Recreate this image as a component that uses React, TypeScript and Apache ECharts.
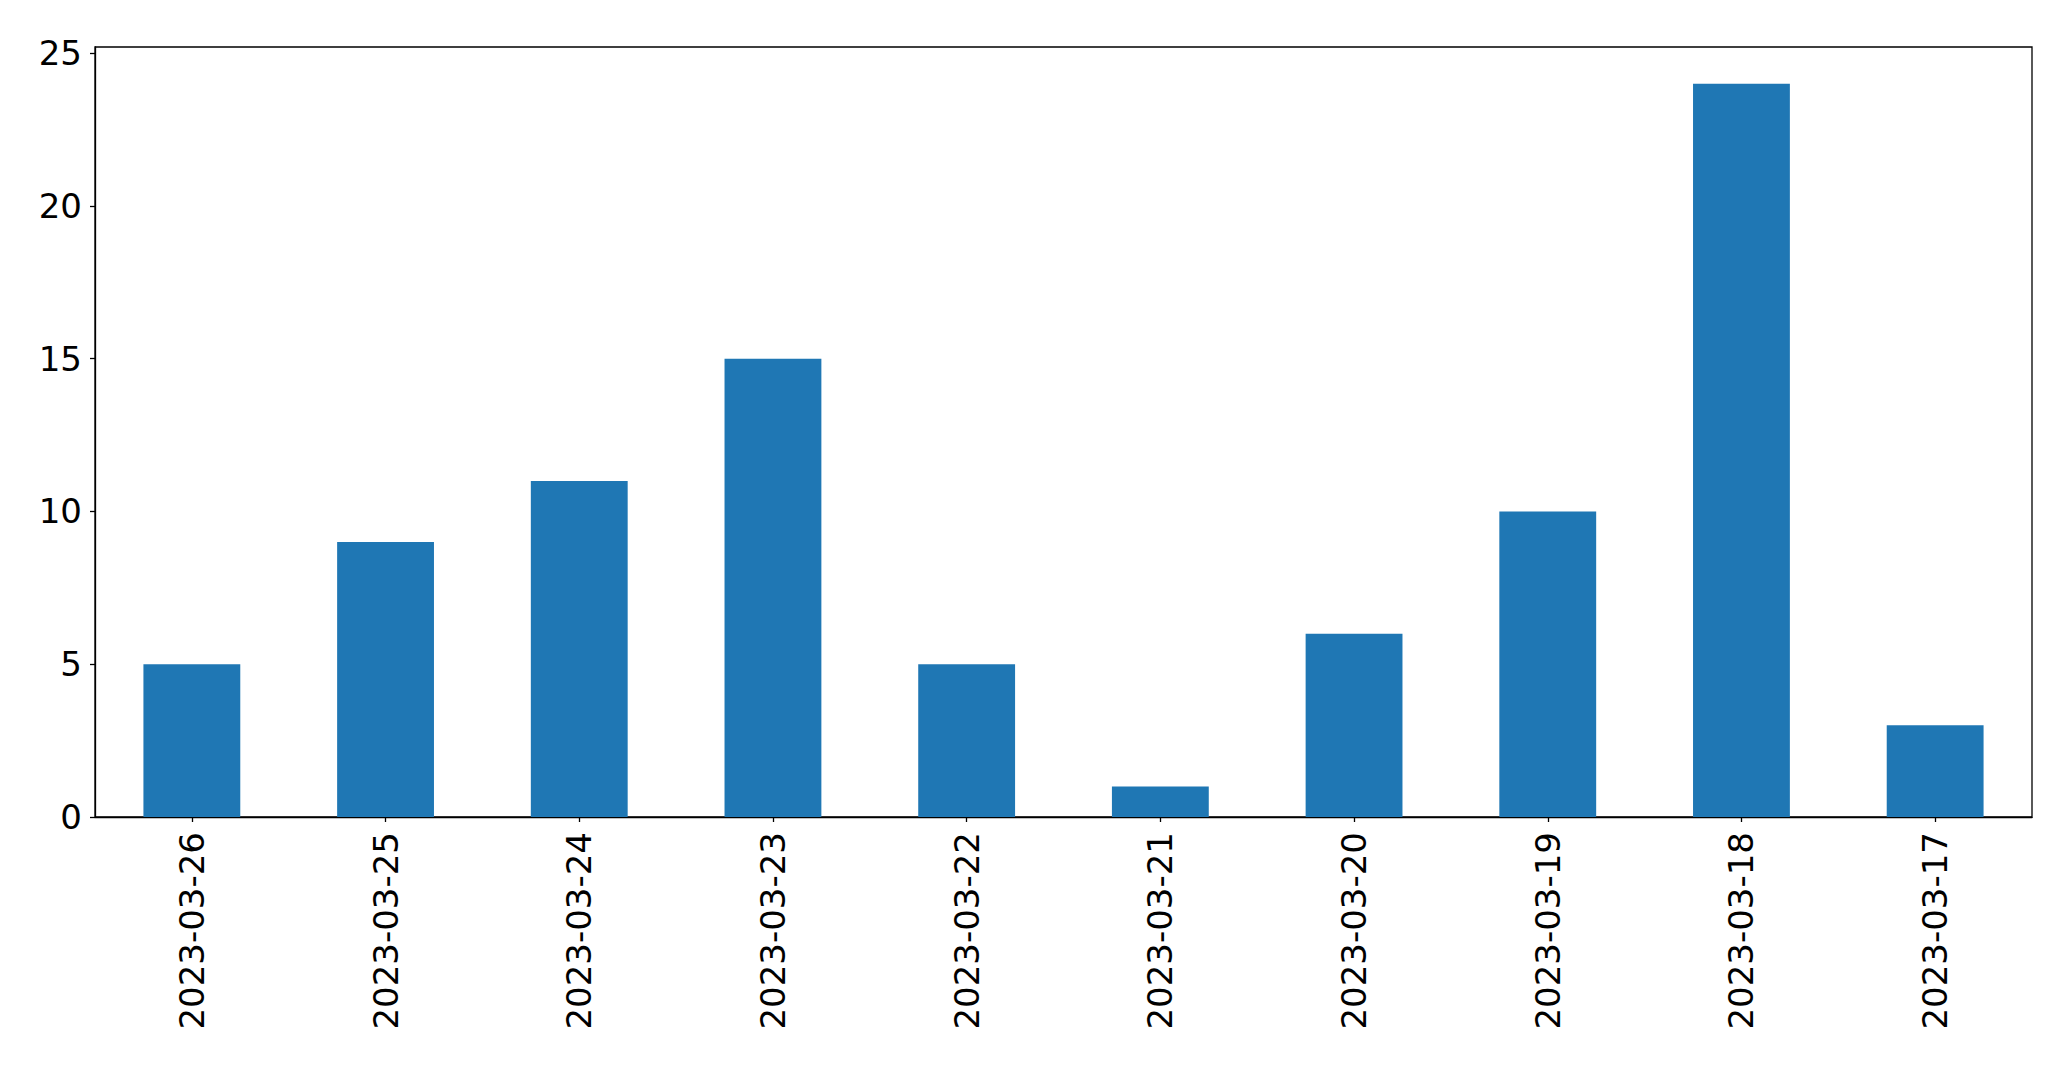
import React, { useEffect, useRef } from "react";
import * as echarts from "echarts";

const categories = [
  "2023-03-26", "2023-03-25", "2023-03-24", "2023-03-23", "2023-03-22",
  "2023-03-21", "2023-03-20", "2023-03-19", "2023-03-18", "2023-03-17",
];
const counts = [5, 9, 11, 15, 5, 1, 6, 10, 24, 3];
const yTicks = [0, 5, 10, 15, 20, 25];

export default function App() {
  const ref = useRef<HTMLDivElement>(null);
  useEffect(() => {
    document.body.style.margin = "0";
    const chart = echarts.init(ref.current!, null, { renderer: "svg" });
    const font = "DejaVu Sans";
    chart.setOption({
      animation: false,
      backgroundColor: "#ffffff",
      grid: {
        left: 95, right: 39, top: 47, bottom: 252,
        show: true, borderColor: "#000000", borderWidth: 1.3, backgroundColor: "transparent",
      },
      xAxis: {
        type: "category",
        data: categories,
        axisLine: { show: true, lineStyle: { color: "#000000", width: 1.3 } },
        axisTick: { show: true, alignWithLabel: true, length: 5, lineStyle: { color: "#000000", width: 1.3 } },
        axisLabel: { rotate: 90, margin: 15, fontSize: 34, color: "#000000", fontFamily: font, interval: 0 },
        splitLine: { show: false },
      },
      yAxis: {
        type: "value",
        min: 0,
        max: 25.2,
        axisLine: { show: true, lineStyle: { color: "#000000", width: 1.3 } },
        axisTick: { show: true, length: 5, customValues: yTicks, lineStyle: { color: "#000000", width: 1.3 } },
        axisLabel: { margin: 13, fontSize: 34, color: "#000000", fontFamily: font, customValues: yTicks },
        splitLine: { show: false },
      },
      series: [
        {
          type: "bar",
          data: counts,
          barWidth: "50%",
          itemStyle: { color: "#1f77b4" },
        },
      ],
    });
    return () => chart.dispose();
  }, []);
  return <div ref={ref} style={{ position: "fixed", left: 0, top: 0, width: 2071, height: 1069 }} />;
}
